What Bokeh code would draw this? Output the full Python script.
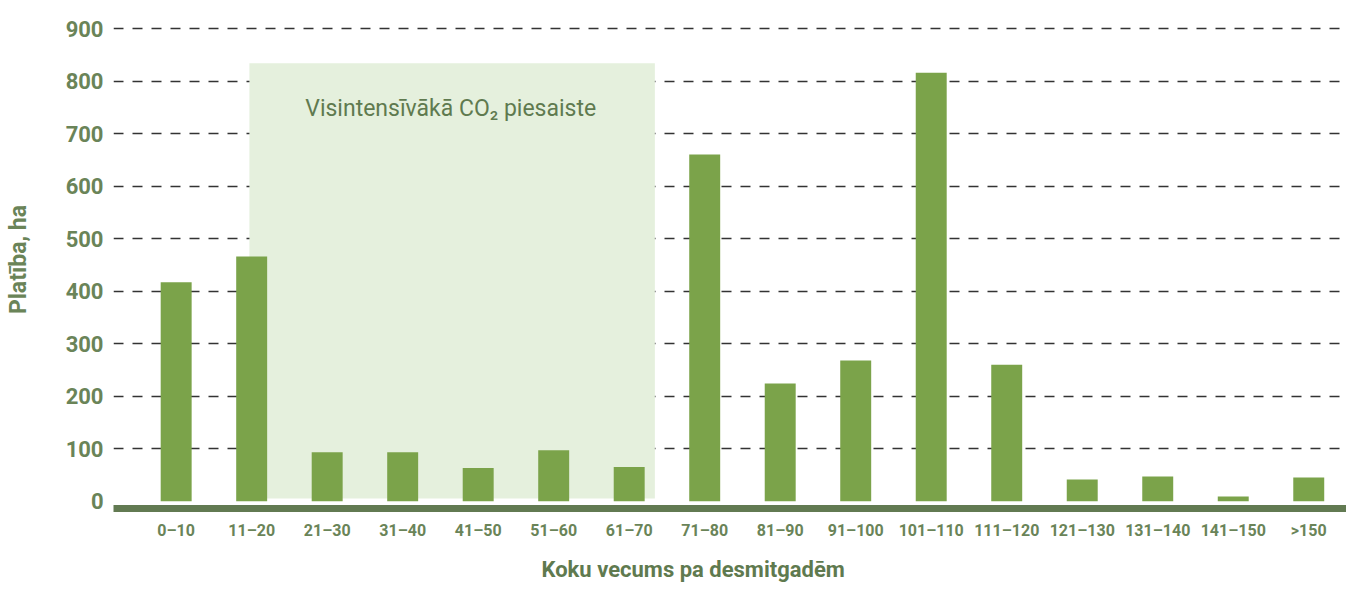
from bokeh.plotting import figure
from bokeh.models import Range1d, FixedTicker, BoxAnnotation, Label, ColumnDataSource, Title
from bokeh.embed import file_html
from bokeh.resources import INLINE

categories = ["0–10", "11–20", "21–30", "31–40", "41–50", "51–60", "61–70", "71–80",
              "81–90", "91–100", "101–110", "111–120", "121–130", "131–140", "141–150", ">150"]
values = [417, 466, 93, 93, 63, 97, 65, 660, 224, 268, 816, 260, 41, 47, 9, 45]
y_ticks = [0, 100, 200, 300, 400, 500, 600, 700, 800, 900]
grid_ticks = [100, 200, 300, 400, 500, 600, 700, 800, 900]

BAR = "#7ba34a"
DARK = "#627a52"
LABEL = "#6a8458"
FONT = "Roboto"

xs = [i + 0.5 for i in range(len(categories))]
src = ColumnDataSource(dict(x=xs, top=values, cat=categories))

p = figure(width=1346, height=593, output_backend="svg", toolbar_location=None,
           x_range=Range1d(-0.33, 16.0), y_range=Range1d(-14, 934.5),
           min_border_left=113, min_border_right=0, min_border_top=10, min_border_bottom=83)
p.outline_line_color = None
p.background_fill_color = "white"

# shaded region
box = BoxAnnotation(left=1.47, right=6.84, bottom=5, top=834, fill_color="#e5f0dd",
                    fill_alpha=1.0, line_color=None, level="underlay")
p.add_layout(box)

p.vbar(x="x", top="top", bottom=0, width=0.41, source=src, color=BAR, line_color=None)

# axes
p.xaxis.ticker = FixedTicker(ticks=xs)
p.xaxis.major_label_overrides = {x: c for x, c in zip(xs, categories)}
p.xaxis.axis_line_color = DARK
p.xaxis.axis_line_width = 7
p.xaxis.major_tick_line_color = None
p.xaxis.minor_tick_line_color = None
p.xaxis.major_tick_out = 0
p.xaxis.major_label_standoff = 12
p.xaxis.major_label_text_font = FONT
p.xaxis.major_label_text_font_style = "bold"
p.xaxis.major_label_text_font_size = "16px"
p.xaxis.major_label_text_color = LABEL

p.yaxis.ticker = FixedTicker(ticks=y_ticks)
p.yaxis.axis_line_color = None
p.yaxis.major_tick_line_color = None
p.yaxis.minor_tick_line_color = None
p.yaxis.major_tick_out = 0
p.yaxis.major_label_standoff = 10
p.yaxis.major_label_text_font = FONT
p.yaxis.major_label_text_font_style = "bold"
p.yaxis.major_label_text_font_size = "22px"
p.yaxis.major_label_text_color = LABEL
p.yaxis.axis_label = "Platība, ha"
p.yaxis.axis_label_text_font = FONT
p.yaxis.axis_label_text_font_style = "bold"
p.yaxis.axis_label_text_font_size = "23px"
p.yaxis.axis_label_text_color = LABEL
p.yaxis.axis_label_standoff = 31

p.xgrid.grid_line_color = None
p.ygrid.ticker = FixedTicker(ticks=grid_ticks)
p.ygrid.grid_line_color = "#333333"
p.ygrid.grid_line_width = 1.3
p.ygrid.grid_line_dash = "10 9"

p.add_layout(Label(x=4.136, y=748, text="Visintensīvākā CO₂ piesaiste", text_align="center",
                   text_baseline="middle", text_font=FONT, text_font_size="23px",
                   text_color="#5f7a4f"))

p.add_layout(Title(text="Koku vecums pa desmitgadēm", align="left", offset=428, standoff=24,
                   text_font=FONT, text_font_style="bold", text_font_size="22px",
                   text_color="#5f7a4f"), "below")

open("out.html", "w").write(file_html(p, INLINE))
